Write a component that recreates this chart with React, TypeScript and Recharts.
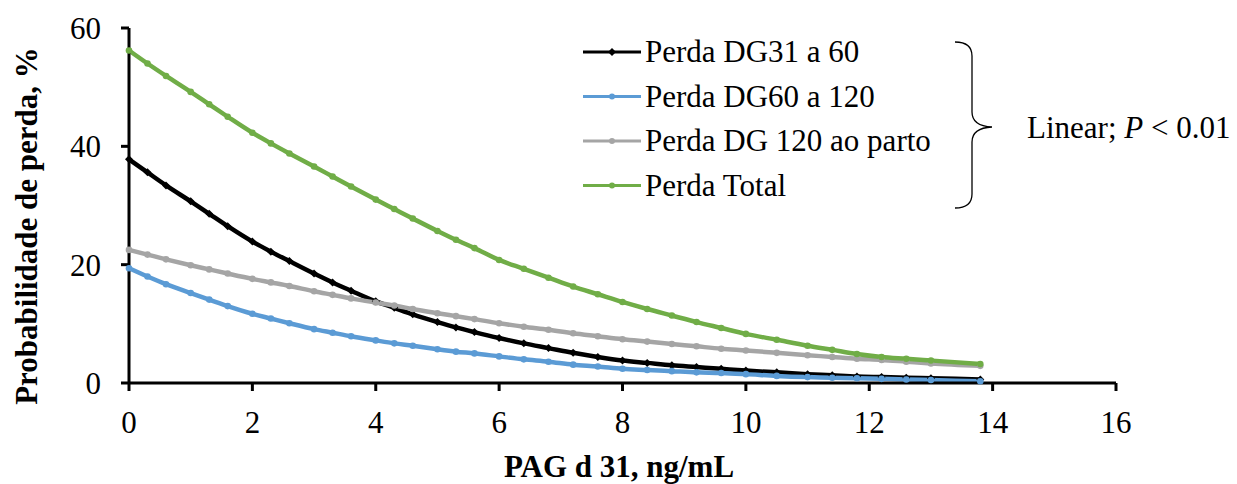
import React from 'react';
import { LineChart, Line, XAxis, YAxis, Legend } from 'recharts';

// PAG d 31 (ng/mL) values where the curves were sampled
const pag = [0, 0.3, 0.6, 1.0, 1.3, 1.6, 2.0, 2.3, 2.6, 3.0, 3.3, 3.6, 4.0, 4.3, 4.6, 5.0, 5.3, 5.6, 6.0, 6.4, 6.8, 7.2, 7.6, 8.0, 8.4, 8.8, 9.2, 9.6, 10.0, 10.5, 11.0, 11.4, 11.8, 12.2, 12.6, 13.0, 13.8];

const perda31a60 = [37.8, 35.6, 33.4, 30.7, 28.6, 26.5, 23.9, 22.2, 20.6, 18.5, 17.0, 15.6, 13.8, 12.7, 11.6, 10.3, 9.4, 8.6, 7.6, 6.7, 5.9, 5.1, 4.4, 3.8, 3.4, 3.0, 2.7, 2.4, 2.1, 1.8, 1.5, 1.3, 1.1, 1.0, 0.9, 0.8, 0.6];
const perda60a120 = [19.4, 18.0, 16.7, 15.2, 14.1, 13.0, 11.7, 10.9, 10.1, 9.1, 8.5, 7.9, 7.2, 6.7, 6.3, 5.7, 5.3, 5.0, 4.5, 4.0, 3.6, 3.1, 2.8, 2.4, 2.2, 2.0, 1.8, 1.7, 1.5, 1.2, 1.0, 0.9, 0.8, 0.7, 0.6, 0.5, 0.3];
const perda120parto = [22.5, 21.7, 20.9, 19.9, 19.2, 18.5, 17.6, 17.0, 16.4, 15.5, 14.9, 14.3, 13.6, 13.1, 12.5, 11.8, 11.3, 10.8, 10.1, 9.5, 9.0, 8.4, 7.9, 7.4, 7.0, 6.6, 6.2, 5.8, 5.5, 5.1, 4.7, 4.4, 4.1, 3.9, 3.6, 3.3, 2.9];
const perdaTotal = [56.2, 54.0, 51.9, 49.2, 47.1, 45.0, 42.3, 40.5, 38.8, 36.6, 34.9, 33.2, 31.0, 29.4, 27.8, 25.7, 24.2, 22.8, 20.8, 19.3, 17.8, 16.3, 15.0, 13.7, 12.5, 11.4, 10.3, 9.3, 8.3, 7.3, 6.3, 5.6, 4.9, 4.4, 4.1, 3.8, 3.2];

const xTicks = [0, 2, 4, 6, 8, 10, 12, 14, 16];
const yTicks = [0, 20, 40, 60];

const series = [
  { key: 'a', name: 'Perda DG31 a 60', color: '#000000', values: perda31a60 },
  { key: 'b', name: 'Perda DG60 a 120', color: '#5B9BD5', values: perda60a120 },
  { key: 'c', name: 'Perda DG 120 ao parto', color: '#A5A5A5', values: perda120parto },
  { key: 'd', name: 'Perda Total', color: '#70AD47', values: perdaTotal },
];

const data = pag.map((x, i) => {
  const row: Record<string, number> = { x };
  series.forEach((s) => (row[s.key] = s.values[i]));
  return row;
});

const FONT = '"Liberation Serif", "Times New Roman", serif';

const Diamond = (props: any) => {
  const { cx, cy } = props;
  if (cx == null || cy == null) return null;
  return <path d={`M${cx},${cy - 4}L${cx + 4},${cy}L${cx},${cy + 4}L${cx - 4},${cy}Z`} fill="#000" />;
};

const LegendBox = () => (
  <svg width={400} height={180} style={{ display: 'block' }}>
    {series.map((s, i) => {
      const y = 22 + i * 44.5;
      return (
        <g key={s.key}>
          <line x1={0} x2={58} y1={y} y2={y} stroke={s.color} strokeWidth={3} />
          {s.key === 'a' ? (
            <path d={`M29,${y - 4}L33,${y}L29,${y + 4}L25,${y}Z`} fill={s.color} />
          ) : (
            <circle cx={29} cy={y} r={3} fill={s.color} />
          )}
          <text x={62} y={y + 10} fontFamily={FONT} fontSize={31} fill="#000">
            {s.name}
          </text>
        </g>
      );
    })}
  </svg>
);

export default function App() {
  return (
    <div style={{ position: 'absolute', left: 0, top: 0, width: 1237, height: 484, background: '#fff' }}>
      <LineChart width={1237} height={484} data={data} margin={{ top: 28, right: 121, left: 0, bottom: 0 }}>
        <XAxis
          dataKey="x"
          type="number"
          domain={[0, 16]}
          ticks={xTicks}
          height={101}
          tickSize={8}
          tickMargin={20}
          axisLine={{ stroke: '#000', strokeWidth: 3 }}
          tickLine={{ stroke: '#000', strokeWidth: 3 }}
          tick={{ fontSize: 31, fill: '#000', fontFamily: FONT }}
        />
        <YAxis
          type="number"
          domain={[0, 60]}
          ticks={yTicks}
          width={129}
          tickSize={8}
          tickMargin={20}
          axisLine={{ stroke: '#000', strokeWidth: 3 }}
          tickLine={{ stroke: '#000', strokeWidth: 3 }}
          tick={{ fontSize: 31, fill: '#000', fontFamily: FONT }}
        />
        <Legend
          verticalAlign="middle"
          align="center"
          layout="horizontal"
          wrapperStyle={{ left: 583, top: 30, width: 400, height: 180 }}
          content={() => <LegendBox />}
        />
        {series.map((s) => (
          <Line
            key={s.key}
            dataKey={s.key}
            name={s.name}
            type="monotone"
            stroke={s.color}
            strokeWidth={4.5}
            dot={s.key === 'a' ? <Diamond /> : { r: 3.3, fill: s.color, stroke: s.color, strokeWidth: 0 }}
            isAnimationActive={false}
          />
        ))}
      </LineChart>
      <svg width={1237} height={484} style={{ position: 'absolute', left: 0, top: 0, pointerEvents: 'none' }}>
        <path
          d="M955,42 Q972,42 972,56 L972,112 Q972,126 992,127 Q972,128 972,142 L972,194 Q972,208 955,208"
          fill="none"
          stroke="#000"
          strokeWidth={1.3}
        />
        <text x={1027} y={138} fontFamily={FONT} fontSize={31} fill="#000">
          Linear; <tspan fontStyle="italic">P</tspan> {'<'} 0.01
        </text>
        <text
          x={0}
          y={0}
          transform="translate(37,226) rotate(-90)"
          textAnchor="middle"
          fontFamily={FONT}
          fontSize={31}
          fontWeight="bold"
          fill="#000"
        >
          Probabilidade de perda, %
        </text>
        <text x={619} y={477} textAnchor="middle" fontFamily={FONT} fontSize={31} fontWeight="bold" fill="#000">
          PAG d 31, ng/mL
        </text>
      </svg>
    </div>
  );
}
